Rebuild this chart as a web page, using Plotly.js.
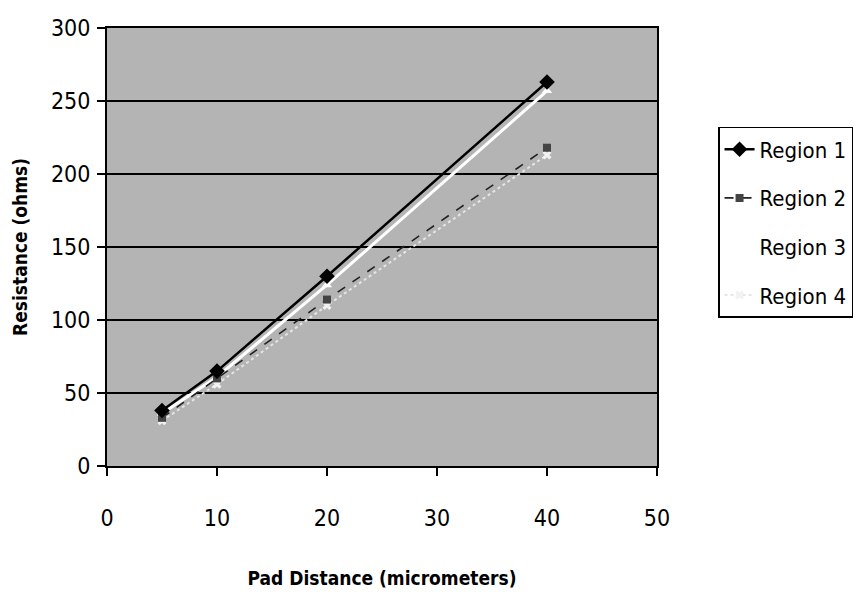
<!DOCTYPE html>
<html><head><meta charset="utf-8">
<script src="https://cdn.plot.ly/plotly-3.0.1.min.js"></script>
<style>html,body{margin:0;padding:0;background:#fff}#c{width:865px;height:592px}</style>
</head><body><div id="c"></div>
<script>
const padDistance = [5, 10, 20, 40];
const region1 = [38, 65, 130, 263];
const region2 = [33, 60, 114, 218];
const region3 = [36, 61, 124, 257];
const region4 = [31, 56, 110, 213];
const seriesNames = ['Region 1', 'Region 2', 'Region 3', 'Region 4'];
const xTicks = [0, 10, 20, 30, 40, 50];
const yTicks = [0, 50, 100, 150, 200, 250, 300];

const FONT = '"DejaVu Sans Condensed", "Liberation Sans Narrow", "Liberation Sans", Arial, sans-serif';

const traces = [
  {x: padDistance, y: region1, name: seriesNames[0], legendgroup: 'g1', legendrank: 1, mode: 'lines+markers',
   line: {color: '#000000', width: 2.5}, marker: {symbol: 'diamond', size: 12, color: '#000000'}},
  {x: padDistance, y: region2, name: seriesNames[1], legendgroup: 'g2', legendrank: 2, mode: 'lines+markers',
   line: {color: '#222222', width: 1.6, dash: 'dash'}, marker: {symbol: 'square', size: 8, color: '#444444'}},
  {x: padDistance, y: region3, name: seriesNames[2], legendgroup: 'g3', legendrank: 3, mode: 'lines+markers',
   line: {color: '#ffffff', width: 3}, marker: {symbol: 'triangle-up', size: 9, color: '#ffffff'}},
  {x: padDistance, y: region4, name: seriesNames[3], legendgroup: 'g4', legendrank: 4, mode: 'lines+markers',
   line: {color: '#e6e6e6', width: 2, dash: 'dot'}, marker: {symbol: 'x', size: 8, color: '#f2f2f2'}}
];
// draw white series beneath the dark ones
const drawOrder = [traces[2], traces[3], traces[1], traces[0]];

const layout = {
  width: 865, height: 592,
  margin: {l: 107, r: 208, t: 28, b: 126, autoexpand: false},
  paper_bgcolor: '#ffffff',
  plot_bgcolor: '#b4b4b4',
  font: {family: FONT, size: 22, color: '#000'},
  showlegend: true,
  legend: {
    x: 1.111, xanchor: 'left', y: 0.774, yanchor: 'top',
    bgcolor: '#ffffff', bordercolor: '#000000', borderwidth: 1.5,
    font: {family: FONT, size: 22, color: '#000'},
    traceorder: 'grouped', tracegroupgap: 17,
    itemwidth: 30
  },
  xaxis: {
    range: [0, 50], tickvals: xTicks, ticktext: xTicks.map(String),
    showgrid: false, zeroline: false,
    showline: true, linecolor: '#000', linewidth: 2, mirror: true,
    ticks: 'outside', ticklen: 8, tickwidth: 2, tickcolor: '#000',
    ticklabelstandoff: 22,
    tickfont: {family: FONT, size: 23},
    title: {text: '<b>Pad Distance (micrometers)</b>', font: {family: FONT, size: 19}, standoff: 42}
  },
  yaxis: {
    range: [0, 300], tickvals: yTicks, ticktext: yTicks.map(String),
    showgrid: true, gridcolor: '#000', gridwidth: 2, zeroline: false,
    showline: true, linecolor: '#000', linewidth: 2, mirror: true,
    ticks: 'outside', ticklen: 8, tickwidth: 2, tickcolor: '#000',
    ticklabelstandoff: 2,
    tickfont: {family: FONT, size: 23},
    title: {text: '<b>Resistance (ohms)</b>', font: {family: FONT, size: 19}, standoff: 18}
  }
};

Plotly.newPlot('c', drawOrder, layout, {displayModeBar: false, staticPlot: true});
</script></body></html>
